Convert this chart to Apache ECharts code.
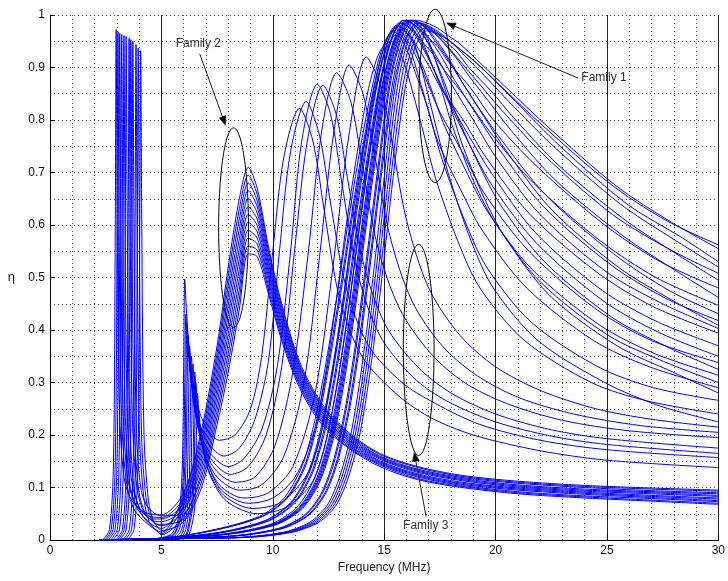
<!DOCTYPE html>
<html>
<head>
<meta charset="utf-8">
<script src="https://cdn.jsdelivr.net/npm/echarts@6/dist/echarts.min.js"></script>
<style>
html, body { margin: 0; padding: 0; background: #fff; }
#chart { width: 728px; height: 581px; }
</style>
</head>
<body>
<div id="chart"></div>
<script>
// Axis tick labels
const freqTicks = ['0', '5', '10', '15', '20', '25', '30'];
const etaTicks = ['0', '0.1', '0.2', '0.3', '0.4', '0.5', '0.6', '0.7', '0.8', '0.9', '1'];

// Family 2: narrow resonance at 3-4 MHz, then broad peak near 8.9 MHz.
// Narrow-resonance part of each curve, [MHz, eta]
const lowSpikes = [
  [[2.37,0],[2.67,0.02],[2.85,0.15],[2.93,0.6],[2.97,0.972],[3.02,0.6],[3.12,0.25],[3.32,0.12],[3.67,0.075],[4.3,0.052]],
  [[2.45,0],[2.75,0.02],[2.93,0.15],[3.01,0.6],[3.05,0.968],[3.1,0.6],[3.2,0.25],[3.4,0.12],[3.75,0.06],[4.4,0.03]],
  [[2.53,0],[2.83,0.02],[3.01,0.15],[3.09,0.6],[3.13,0.965],[3.18,0.6],[3.28,0.25],[3.48,0.12],[3.83,0.068],[4.45,0.045]],
  [[2.62,0],[2.92,0.02],[3.1,0.15],[3.18,0.6],[3.22,0.963],[3.27,0.6],[3.37,0.25],[3.57,0.11],[3.92,0.06],[4.5,0.032]],
  [[2.72,0],[3.02,0.02],[3.2,0.15],[3.28,0.6],[3.32,0.961],[3.37,0.6],[3.47,0.24],[3.67,0.11],[4.02,0.062],[4.55,0.04]],
  [[2.82,0],[3.12,0.02],[3.3,0.15],[3.38,0.6],[3.42,0.959],[3.47,0.6],[3.57,0.24],[3.77,0.1],[4.1,0.05],[4.6,0.025]],
  [[2.95,0],[3.25,0.02],[3.43,0.15],[3.51,0.6],[3.55,0.956],[3.6,0.6],[3.7,0.23],[3.9,0.1],[4.2,0.055],[4.65,0.036]],
  [[3.03,0],[3.33,0.02],[3.51,0.15],[3.59,0.6],[3.63,0.953],[3.68,0.6],[3.78,0.22],[3.98,0.095],[4.28,0.05],[4.7,0.033]],
  [[3.12,0],[3.42,0.02],[3.6,0.15],[3.68,0.6],[3.72,0.95],[3.77,0.6],[3.87,0.22],[4.07,0.1],[4.35,0.065],[4.72,0.05]],
  [[3.26,0],[3.56,0.02],[3.74,0.15],[3.82,0.6],[3.86,0.944],[3.91,0.6],[4.01,0.21],[4.21,0.08],[4.45,0.035],[4.75,0.02]],
  [[3.36,0],[3.66,0.02],[3.84,0.15],[3.92,0.6],[3.96,0.937],[4.01,0.6],[4.11,0.2],[4.31,0.08],[4.55,0.04],[4.8,0.03]],
  [[3.47,0],[3.77,0.02],[3.95,0.15],[4.03,0.6],[4.07,0.932],[4.12,0.6],[4.22,0.2],[4.42,0.075],[4.65,0.035],[4.85,0.024]]
];
// Broad part of the same curves on a shared frequency grid
const family2Freq = [5, 6, 6.8, 7.5, 8, 8.5, 8.9, 9.3, 9.8, 10.4, 11.2, 12.2, 13.4, 14.8, 16.5, 18.5, 21, 24, 27, 30];
const family2Eta = [
  [0.048,0.090,0.210,0.370,0.520,0.650,0.710,0.670,0.560,0.450,0.340,0.260,0.205,0.165,0.140,0.123,0.112,0.104,0.099,0.095],
  [0.015,0.085,0.200,0.356,0.502,0.631,0.695,0.658,0.552,0.444,0.335,0.256,0.202,0.163,0.138,0.121,0.110,0.102,0.097,0.093],
  [0.043,0.080,0.190,0.343,0.484,0.612,0.680,0.646,0.544,0.437,0.331,0.253,0.200,0.160,0.135,0.119,0.108,0.100,0.094,0.090],
  [0.022,0.075,0.180,0.329,0.465,0.593,0.665,0.635,0.535,0.431,0.326,0.249,0.197,0.158,0.133,0.117,0.105,0.097,0.092,0.088],
  [0.040,0.070,0.170,0.315,0.447,0.574,0.650,0.623,0.527,0.425,0.322,0.245,0.194,0.156,0.131,0.115,0.103,0.095,0.090,0.085],
  [0.012,0.065,0.160,0.302,0.429,0.555,0.635,0.611,0.519,0.418,0.317,0.242,0.191,0.154,0.129,0.113,0.101,0.093,0.088,0.083],
  [0.035,0.060,0.150,0.288,0.411,0.536,0.620,0.599,0.511,0.412,0.313,0.238,0.189,0.151,0.126,0.110,0.099,0.091,0.085,0.080],
  [0.027,0.055,0.140,0.275,0.393,0.516,0.605,0.587,0.503,0.405,0.308,0.235,0.186,0.149,0.124,0.108,0.097,0.089,0.083,0.078],
  [0.046,0.050,0.130,0.261,0.375,0.497,0.590,0.575,0.495,0.399,0.304,0.231,0.183,0.147,0.122,0.106,0.095,0.087,0.081,0.075],
  [0.010,0.045,0.120,0.247,0.356,0.478,0.575,0.564,0.486,0.393,0.299,0.227,0.180,0.145,0.120,0.104,0.092,0.084,0.079,0.073],
  [0.030,0.040,0.110,0.234,0.338,0.459,0.560,0.552,0.478,0.386,0.295,0.224,0.177,0.143,0.117,0.102,0.090,0.082,0.076,0.070],
  [0.018,0.035,0.100,0.220,0.320,0.440,0.545,0.540,0.470,0.380,0.290,0.220,0.175,0.140,0.115,0.100,0.088,0.080,0.074,0.068]
];

// Curves with a small resonance near 6 MHz, a dip, then a peak at 11-16 MHz
const midCurves = [
  [[4.2,0],[5.4,0.01],[5.75,0.04],[5.93,0.13],[6.0,0.33],[6.05,0.497],[6.12,0.44],[6.3,0.34],[6.6,0.26],[7.0,0.215],[7.6,0.19],[8.3,0.2],[9.0,0.25],[9.5,0.35],[10,0.55],[10.5,0.73],[11.2,0.822],[11.8,0.76],[12.3,0.63],[13,0.46],[14,0.35],[15.5,0.28],[17,0.235],[19,0.2],[22,0.17],[25,0.152],[30,0.138]],
  [[4.3,0],[5.5,0.01],[5.8,0.04],[5.98,0.12],[6.05,0.3],[6.1,0.43],[6.17,0.38],[6.35,0.3],[6.65,0.23],[7.1,0.185],[7.8,0.16],[8.5,0.175],[9.2,0.23],[9.8,0.34],[10.3,0.55],[10.8,0.74],[11.5,0.835],[12.1,0.77],[12.6,0.64],[13.3,0.48],[14.3,0.37],[15.8,0.3],[17.3,0.26],[19.3,0.22],[22,0.19],[25,0.172],[30,0.157]],
  [[4.4,0],[5.5,0.008],[5.85,0.04],[6.03,0.12],[6.1,0.29],[6.15,0.41],[6.22,0.36],[6.4,0.28],[6.7,0.21],[7.2,0.165],[8.0,0.14],[8.7,0.155],[9.5,0.21],[10.2,0.33],[10.8,0.55],[11.3,0.76],[12.0,0.868],[12.6,0.81],[13.1,0.68],[13.8,0.51],[14.8,0.39],[16.3,0.31],[17.8,0.265],[20,0.225],[22.5,0.198],[25,0.182],[30,0.165]],
  [[4.5,0],[5.6,0.008],[5.9,0.035],[6.08,0.11],[6.15,0.28],[6.2,0.39],[6.27,0.34],[6.45,0.26],[6.75,0.2],[7.3,0.15],[8.1,0.125],[8.9,0.14],[9.7,0.2],[10.4,0.33],[11.0,0.56],[11.55,0.76],[12.25,0.866],[12.85,0.81],[13.35,0.69],[14.05,0.53],[15.05,0.41],[16.5,0.33],[18,0.28],[20,0.24],[22.5,0.21],[25,0.193],[30,0.175]],
  [[4.6,0],[5.7,0.007],[5.97,0.03],[6.15,0.1],[6.22,0.26],[6.27,0.37],[6.34,0.32],[6.52,0.245],[6.82,0.185],[7.4,0.135],[8.3,0.11],[9.2,0.12],[10.1,0.18],[10.9,0.32],[11.6,0.55],[12.2,0.78],[12.87,0.89],[13.5,0.835],[14.0,0.72],[14.7,0.56],[15.7,0.44],[17.1,0.355],[18.6,0.3],[20.5,0.26],[23,0.228],[26,0.208],[30,0.195]],
  [[4.7,0],[5.8,0.006],[6.05,0.03],[6.23,0.09],[6.3,0.24],[6.35,0.35],[6.42,0.3],[6.6,0.23],[6.9,0.17],[7.5,0.12],[8.5,0.095],[9.5,0.105],[10.5,0.16],[11.4,0.3],[12.1,0.54],[12.75,0.78],[13.43,0.905],[14.05,0.85],[14.55,0.74],[15.25,0.58],[16.25,0.455],[17.6,0.37],[19.1,0.315],[21,0.272],[23.5,0.24],[26.5,0.218],[30,0.205]],
  [[4.8,0],[5.9,0.006],[6.12,0.025],[6.3,0.085],[6.37,0.23],[6.42,0.335],[6.49,0.29],[6.67,0.22],[6.97,0.16],[7.6,0.105],[8.7,0.08],[9.8,0.09],[10.9,0.14],[11.9,0.28],[12.7,0.52],[13.45,0.78],[14.2,0.92],[14.8,0.87],[15.3,0.77],[16,0.61],[17,0.48],[18.4,0.39],[20,0.33],[22,0.285],[24.5,0.25],[27,0.23],[30,0.215]],
  [[4.9,0],[6.0,0.005],[6.2,0.025],[6.38,0.08],[6.45,0.22],[6.5,0.32],[6.57,0.28],[6.75,0.21],[7.05,0.15],[7.7,0.095],[8.9,0.07],[10,0.08],[11,0.12],[11.8,0.2],[12.3,0.3],[12.8,0.44],[13.3,0.6],[13.8,0.74],[14.3,0.86],[14.8,0.93],[15.3,0.95],[15.8,0.92],[16.3,0.85],[16.8,0.77],[17.3,0.69],[18.3,0.57],[19.3,0.48],[21.3,0.38],[24.3,0.3],[26.8,0.265],[30,0.24]],
  [[5.0,0],[6.05,0.005],[6.25,0.025],[6.43,0.075],[6.5,0.21],[6.55,0.3],[6.62,0.26],[6.8,0.19],[7.1,0.135],[7.8,0.085],[9.1,0.06],[10.3,0.07],[11.1,0.1],[11.6,0.13],[12.1,0.19],[12.6,0.3],[13.1,0.44],[13.6,0.6],[14.1,0.75],[14.6,0.86],[15.1,0.935],[15.6,0.965],[16.1,0.94],[16.6,0.875],[17.1,0.8],[17.6,0.725],[18.6,0.61],[19.6,0.52],[21.6,0.415],[24.6,0.33],[27.1,0.29],[30,0.266]],
  [[5.1,0],[6.1,0.004],[6.32,0.02],[6.5,0.065],[6.57,0.19],[6.62,0.28],[6.69,0.24],[6.87,0.175],[7.17,0.125],[7.9,0.075],[9.3,0.05],[10.5,0.06],[11.4,0.09],[11.9,0.12],[12.4,0.19],[12.9,0.3],[13.4,0.44],[13.9,0.6],[14.4,0.75],[14.9,0.865],[15.4,0.945],[15.9,0.975],[16.4,0.94],[16.9,0.86],[17.4,0.775],[17.9,0.695],[18.9,0.57],[19.9,0.48],[21.9,0.38],[24.9,0.3],[27.4,0.255],[30,0.225]]
];

// Family 1: main resonance at 15.4-16.9 MHz
const family1Curves = [
  [[2.2,0],[5,0.003],[7.4,0.02],[9.4,0.045],[10.4,0.075],[10.9,0.105],[11.4,0.15],[11.9,0.23],[12.4,0.34],[12.9,0.47],[13.4,0.61],[13.9,0.74],[14.4,0.85],[14.9,0.935],[15.4,0.97],[15.9,0.945],[16.4,0.89],[16.9,0.83],[17.4,0.76],[18.4,0.67],[19.4,0.59],[21.4,0.48],[24.4,0.38],[26.9,0.33],[30,0.29]],
  [[2.2,0],[5,0.003],[7.5,0.02],[9.5,0.045],[10.5,0.075],[11,0.105],[11.5,0.15],[12,0.23],[12.5,0.34],[13,0.47],[13.5,0.61],[14,0.74],[14.5,0.855],[15,0.94],[15.5,0.975],[16,0.955],[16.5,0.915],[17,0.865],[17.5,0.815],[18.5,0.74],[19.5,0.66],[21.5,0.55],[24.5,0.44],[27,0.38],[30,0.338]],
  [[2.2,0],[5,0.003],[7.55,0.02],[9.55,0.045],[10.55,0.075],[11.05,0.105],[11.55,0.15],[12.05,0.23],[12.55,0.34],[13.05,0.47],[13.55,0.61],[14.05,0.74],[14.55,0.86],[15.05,0.945],[15.55,0.98],[16.05,0.965],[16.55,0.935],[17.05,0.9],[17.55,0.86],[18.55,0.8],[19.55,0.73],[21.55,0.62],[24.55,0.51],[27.05,0.445],[30,0.394]],
  [[2.2,0],[5,0.003],[7.65,0.015],[9.65,0.037],[10.65,0.065],[11.15,0.092],[11.65,0.135],[12.15,0.21],[12.65,0.32],[13.15,0.455],[13.65,0.605],[14.15,0.745],[14.65,0.865],[15.15,0.948],[15.65,0.98],[16.15,0.957],[16.65,0.91],[17.15,0.855],[17.65,0.795],[18.65,0.705],[19.65,0.625],[21.65,0.515],[24.65,0.41],[27.15,0.355],[30,0.314]],
  [[2.2,0],[5,0.003],[7.7,0.015],[9.7,0.037],[10.7,0.065],[11.2,0.092],[11.7,0.135],[12.2,0.21],[12.7,0.32],[13.2,0.455],[13.7,0.605],[14.2,0.745],[14.7,0.87],[15.2,0.953],[15.7,0.985],[16.2,0.975],[16.7,0.95],[17.2,0.925],[17.7,0.895],[18.7,0.84],[19.7,0.78],[21.7,0.68],[24.7,0.57],[27.2,0.5],[30,0.447]],
  [[2.2,0],[5,0.003],[7.8,0.015],[9.8,0.037],[10.8,0.065],[11.3,0.092],[11.8,0.135],[12.3,0.21],[12.8,0.32],[13.3,0.455],[13.8,0.605],[14.3,0.745],[14.8,0.87],[15.3,0.953],[15.8,0.985],[16.3,0.967],[16.8,0.932],[17.3,0.89],[17.8,0.845],[18.8,0.77],[19.8,0.7],[21.8,0.585],[24.8,0.475],[27.3,0.415],[30,0.37]],
  [[2.2,0],[5,0.003],[7.85,0.015],[9.85,0.037],[10.85,0.065],[11.35,0.092],[11.85,0.135],[12.35,0.21],[12.85,0.32],[13.35,0.455],[13.85,0.605],[14.35,0.745],[14.85,0.875],[15.35,0.958],[15.85,0.99],[16.35,0.97],[16.85,0.932],[17.35,0.885],[17.85,0.838],[18.85,0.752],[19.85,0.675],[21.85,0.565],[24.85,0.455],[27.35,0.395],[30,0.35]],
  [[2.2,0],[5,0.003],[7.9,0.012],[9.9,0.03],[10.9,0.055],[11.4,0.08],[11.9,0.12],[12.4,0.19],[12.9,0.3],[13.4,0.44],[13.9,0.6],[14.4,0.75],[14.9,0.88],[15.4,0.96],[15.9,0.99],[16.4,0.98],[16.9,0.96],[17.4,0.94],[17.9,0.91],[18.9,0.86],[19.9,0.8],[21.9,0.71],[24.9,0.6],[27.4,0.53],[30,0.48]],
  [[2.2,0],[5,0.003],[8,0.012],[10,0.03],[11,0.055],[11.5,0.08],[12,0.12],[12.5,0.19],[13,0.3],[13.5,0.44],[14,0.6],[14.5,0.75],[15,0.88],[15.5,0.96],[16,0.99],[16.5,0.975],[17,0.945],[17.5,0.91],[18,0.87],[19,0.8],[20,0.73],[22,0.62],[25,0.51],[27.5,0.45],[30,0.403]],
  [[2.2,0],[5,0.003],[8.05,0.012],[10.05,0.03],[11.05,0.055],[11.55,0.08],[12.05,0.12],[12.55,0.19],[13.05,0.3],[13.55,0.44],[14.05,0.6],[14.55,0.75],[15.05,0.88],[15.55,0.96],[16.05,0.99],[16.55,0.965],[17.05,0.915],[17.55,0.86],[18.05,0.79],[19.05,0.68],[20.05,0.6],[22.05,0.49],[25.05,0.39],[27.55,0.34],[30,0.3]],
  [[2.2,0],[5,0.003],[8.1,0.012],[10.1,0.03],[11.1,0.055],[11.6,0.08],[12.1,0.12],[12.6,0.19],[13.1,0.3],[13.6,0.44],[14.1,0.6],[14.6,0.75],[15.1,0.88],[15.6,0.96],[16.1,0.99],[16.6,0.985],[17.1,0.975],[17.6,0.96],[18.1,0.945],[19.1,0.91],[20.1,0.87],[22.1,0.79],[25.1,0.68],[27.6,0.61],[30,0.562]],
  [[2.2,0],[5,0.003],[8.15,0.012],[10.15,0.03],[11.15,0.055],[11.65,0.08],[12.15,0.12],[12.65,0.19],[13.15,0.3],[13.65,0.44],[14.15,0.6],[14.65,0.75],[15.15,0.88],[15.65,0.96],[16.15,0.99],[16.65,0.976],[17.15,0.948],[17.65,0.915],[18.15,0.877],[19.15,0.81],[20.15,0.745],[22.15,0.635],[25.15,0.525],[27.65,0.46],[30,0.418]],
  [[2.2,0],[5,0.003],[8.2,0.012],[10.2,0.03],[11.2,0.055],[11.7,0.08],[12.2,0.12],[12.7,0.19],[13.2,0.3],[13.7,0.44],[14.2,0.6],[14.7,0.75],[15.2,0.88],[15.7,0.96],[16.2,0.99],[16.7,0.968],[17.2,0.925],[17.7,0.872],[18.2,0.815],[19.2,0.72],[20.2,0.64],[22.2,0.53],[25.2,0.425],[27.7,0.368],[30,0.325]],
  [[2.2,0],[5,0.003],[8.25,0.008],[10.25,0.022],[11.25,0.042],[11.75,0.062],[12.25,0.095],[12.75,0.155],[13.25,0.25],[13.75,0.385],[14.25,0.55],[14.75,0.72],[15.25,0.875],[15.75,0.958],[16.25,0.99],[16.75,0.98],[17.25,0.965],[17.75,0.945],[18.25,0.92],[19.25,0.87],[20.25,0.82],[22.25,0.73],[25.25,0.62],[27.75,0.555],[30,0.508]],
  [[2.2,0],[5,0.003],[8.3,0.008],[10.3,0.022],[11.3,0.042],[11.8,0.062],[12.3,0.095],[12.8,0.155],[13.3,0.25],[13.8,0.385],[14.3,0.55],[14.8,0.72],[15.3,0.875],[15.8,0.958],[16.3,0.99],[16.8,0.978],[17.3,0.95],[17.8,0.92],[18.3,0.885],[19.3,0.82],[20.3,0.76],[22.3,0.655],[25.3,0.545],[27.8,0.475],[30,0.431]],
  [[2.2,0],[5,0.003],[8.4,0.008],[10.4,0.022],[11.4,0.042],[11.9,0.062],[12.4,0.095],[12.9,0.155],[13.4,0.25],[13.9,0.385],[14.4,0.55],[14.9,0.72],[15.4,0.875],[15.9,0.958],[16.4,0.99],[16.9,0.985],[17.4,0.975],[17.9,0.96],[18.4,0.945],[19.4,0.905],[20.4,0.865],[22.4,0.785],[25.4,0.675],[27.9,0.605],[30,0.555]],
  [[2.2,0],[5,0.003],[8.45,0.008],[10.45,0.022],[11.45,0.042],[11.95,0.062],[12.45,0.095],[12.95,0.155],[13.45,0.25],[13.95,0.385],[14.45,0.55],[14.95,0.72],[15.45,0.87],[15.95,0.953],[16.45,0.985],[16.95,0.955],[17.45,0.895],[17.95,0.83],[18.45,0.76],[19.45,0.655],[20.45,0.575],[22.45,0.465],[25.45,0.37],[27.95,0.32],[30,0.28]],
  [[2.2,0],[5,0.003],[8.5,0.005],[10.5,0.015],[11.5,0.03],[12,0.045],[12.5,0.07],[13,0.12],[13.5,0.2],[14,0.33],[14.5,0.5],[15,0.69],[15.5,0.865],[16,0.955],[16.5,0.985],[17,0.97],[17.5,0.943],[18,0.91],[18.5,0.872],[19.5,0.805],[20.5,0.74],[22.5,0.63],[25.5,0.52],[28,0.455],[30,0.409]],
  [[2.2,0],[5,0.003],[8.6,0.005],[10.6,0.015],[11.6,0.03],[12.1,0.045],[12.6,0.07],[13.1,0.12],[13.6,0.2],[14.1,0.33],[14.6,0.5],[15.1,0.69],[15.6,0.865],[16.1,0.955],[16.6,0.985],[17.1,0.977],[17.6,0.963],[18.1,0.945],[18.6,0.923],[19.6,0.88],[20.6,0.835],[22.6,0.75],[25.6,0.64],[28.1,0.57],[30,0.52]],
  [[2.2,0],[5,0.003],[8.7,0.005],[10.7,0.015],[11.7,0.03],[12.2,0.045],[12.7,0.07],[13.2,0.12],[13.7,0.2],[14.2,0.33],[14.7,0.5],[15.2,0.69],[15.7,0.86],[16.2,0.95],[16.7,0.98],[17.2,0.97],[17.7,0.945],[18.2,0.92],[18.7,0.89],[19.7,0.835],[20.7,0.78],[22.7,0.685],[25.7,0.58],[28.2,0.51],[30,0.462]],
  [[2.2,0],[5,0.003],[8.8,0.005],[10.8,0.015],[11.8,0.03],[12.3,0.045],[12.8,0.07],[13.3,0.12],[13.8,0.2],[14.3,0.33],[14.8,0.5],[15.3,0.69],[15.8,0.855],[16.3,0.945],[16.8,0.975],[17.3,0.967],[17.8,0.948],[18.3,0.928],[18.8,0.9],[19.8,0.855],[20.8,0.805],[22.8,0.715],[25.8,0.61],[28.3,0.54],[30,0.495]],
  [[2.2,0],[5,0.003],[8.9,0.005],[10.9,0.015],[11.9,0.03],[12.4,0.045],[12.9,0.07],[13.4,0.12],[13.9,0.2],[14.4,0.33],[14.9,0.5],[15.4,0.69],[15.9,0.85],[16.4,0.94],[16.9,0.97],[17.4,0.964],[17.9,0.952],[18.4,0.935],[18.9,0.918],[19.9,0.878],[20.9,0.835],[22.9,0.75],[25.9,0.64],[28.4,0.575],[30,0.53]]
];

// Callouts: ellipse centre / half-axes in axis units, arrow from text to target
const callouts = [
  { label: 'Family 1', ellipse: [17.29, 0.846, 0.73, 0.165], from: [23.7, 0.88], to: [17.8, 0.985], text: [23.85, 0.881] },
  { label: 'Family 2', ellipse: [8.24, 0.595, 0.67, 0.19], from: [6.72, 0.926], to: [7.88, 0.79], text: [5.64, 0.945] },
  { label: 'Family 3', ellipse: [16.55, 0.362, 0.69, 0.201], from: [16.88, 0.045], to: [16.35, 0.167], text: [15.85, 0.028] }
];

const FONT = '"Liberation Sans", Arial, Helvetica, sans-serif';
const BLUE = '#0000ff';

const allCurves = [];
lowSpikes.forEach((spike, k) => {
  allCurves.push(spike.concat(family2Freq.map((f, i) => [f, family2Eta[k][i]])));
});
midCurves.forEach(c => allCurves.push(c));
family1Curves.forEach(c => allCurves.push(c));

const series = allCurves.map(pts => ({
  type: 'line',
  data: pts,
  smooth: 0.3,
  showSymbol: false,
  symbol: 'none',
  silent: true,
  clip: true,
  lineStyle: { color: BLUE, width: 1 },
  emphasis: { disabled: true }
}));

const chart = echarts.init(document.getElementById('chart'), null, { renderer: 'canvas' });
chart.setOption({
  animation: false,
  backgroundColor: '#fff',
  grid: { left: 50, right: 8, top: 15, bottom: 41, containLabel: false },
  xAxis: {
    type: 'value', min: 0, max: 30, interval: 5,
    name: 'Frequency (MHz)', nameLocation: 'middle', nameGap: 21,
    nameTextStyle: { fontFamily: FONT, fontSize: 12, color: '#222' },
    axisLine: { show: true, onZero: false, lineStyle: { color: '#000', width: 1 } },
    axisTick: { show: true, inside: true, length: 5, lineStyle: { color: '#000' } },
    axisLabel: { fontFamily: FONT, fontSize: 12, color: '#111', margin: 5,
      formatter: v => freqTicks[Math.round(v / 5)] },
    splitLine: { show: true, lineStyle: { color: '#222', width: 1, type: 'solid' } },
    minorTick: { show: false, splitNumber: 5 },
    minorSplitLine: { show: true, lineStyle: { color: '#555', width: 1, type: [1, 3] } }
  },
  yAxis: {
    type: 'value', min: 0, max: 1, interval: 0.1,
    name: 'η', nameLocation: 'middle', nameGap: 35, nameRotate: 0,
    nameTextStyle: { fontFamily: FONT, fontSize: 13, color: '#222' },
    axisLine: { show: true, onZero: false, lineStyle: { color: '#000', width: 1 } },
    axisTick: { show: true, inside: true, length: 5, lineStyle: { color: '#000' } },
    axisLabel: { fontFamily: FONT, fontSize: 12, color: '#111', margin: 5,
      formatter: v => etaTicks[Math.round(v * 10)] },
    splitLine: { show: true, lineStyle: { color: '#555', width: 1, type: [1, 3] } },
    minorTick: { show: false, splitNumber: 2 },
    minorSplitLine: { show: true, lineStyle: { color: '#555', width: 1, type: [1, 3] } }
  },
  series: series
});

// Callout ellipses, arrows and labels placed through the axis scales
function toPx(p) { return chart.convertToPixel({ gridIndex: 0 }, p); }
const graphics = [];
callouts.forEach(c => {
  const [cxD, cyD, rxD, ryD] = c.ellipse;
  const ctr = toPx([cxD, cyD]);
  const rx = toPx([cxD + rxD, cyD])[0] - ctr[0];
  const ry = ctr[1] - toPx([cxD, cyD + ryD])[1];
  graphics.push({ type: 'ellipse', shape: { cx: ctr[0], cy: ctr[1], rx: rx, ry: ry },
    style: { fill: null, stroke: '#000', lineWidth: 1 }, z: 100, silent: true });
  const a = toPx(c.from), b = toPx(c.to);
  const dx = b[0] - a[0], dy = b[1] - a[1];
  const len = Math.hypot(dx, dy);
  const ux = dx / len, uy = dy / len;
  const hl = 9, hw = 3.5;
  const bx = b[0] - ux * hl, by = b[1] - uy * hl;
  graphics.push({ type: 'line', shape: { x1: a[0], y1: a[1], x2: bx, y2: by },
    style: { stroke: '#222', lineWidth: 1 }, z: 100, silent: true });
  graphics.push({ type: 'polygon', shape: { points: [[b[0], b[1]], [bx - uy * hw, by + ux * hw], [bx + uy * hw, by - ux * hw]] },
    style: { fill: '#000', stroke: '#000', lineWidth: 0.5 }, z: 100, silent: true });
  const t = toPx(c.text);
  graphics.push({ type: 'text', x: t[0], y: t[1], z: 101, silent: true,
    style: { text: c.label, fill: '#333', font: '12px ' + FONT, align: 'left', verticalAlign: 'middle' } });
});
chart.setOption({ graphic: graphics });
</script>
</body>
</html>
